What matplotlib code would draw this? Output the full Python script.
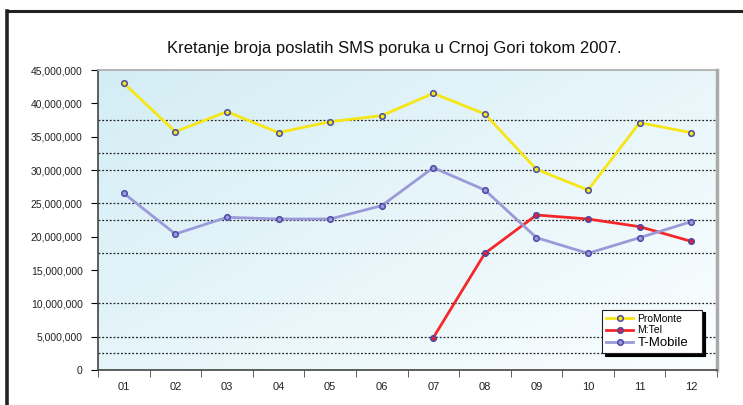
import numpy as np
import matplotlib.pyplot as plt
from matplotlib.lines import Line2D
from matplotlib.ticker import FuncFormatter, MultipleLocator

plt.rcParams['font.family'] = ['Liberation Sans', 'DejaVu Sans']

meseci = ['01', '02', '03', '04', '05', '06', '07', '08', '09', '10', '11', '12']
promonte = [43.0, 35.75, 38.75, 35.6, 37.25, 38.15, 41.5, 38.4, 30.1, 27.0, 37.1, 35.6]
tmobile = [26.5, 20.4, 22.9, 22.65, 22.65, 24.65, 30.35, 27.0, 19.85, 17.5, 19.85, 22.25]
mtel = [None, None, None, None, None, None, 4.85, 17.5, 23.25, 22.65, 21.5, 19.3]
# isprekidane linije mreze (miliona)
nivoi_mreze = [2.5, 5, 10, 17.5, 22.5, 25, 30, 32.5, 37.5]

W, H = 743, 405
fig = plt.figure(figsize=(W / 100, H / 100), dpi=100)

# okvir slike
fig.add_artist(Line2D([7 / W, 1], [1 - 11 / H, 1 - 11 / H], color='#222222', lw=2.2))
fig.add_artist(Line2D([7 / W, 7 / W], [0, 1 - 11 / H], color='#222222', lw=2.6))

ax = fig.add_axes([98 / W, 35 / H, 619 / W, 300 / H])

# pozadina sa prelivom
gx, gy = np.meshgrid(np.linspace(0, 1, 200), np.linspace(1, 0, 120))
t = np.clip((gx * 0.7 + (1 - gy) * 0.6) / 1.3, 0, 1)
c0 = np.array([0.83, 0.93, 0.96])
c1 = np.array([0.98, 0.995, 1.0])
img = c0[None, None, :] * (1 - t[..., None]) + c1[None, None, :] * t[..., None]
ax.imshow(img, extent=[0, 1, 0, 1], transform=ax.transAxes, aspect='auto', zorder=0)

x = np.arange(len(meseci))
for lvl in nivoi_mreze:
    ax.axhline(lvl * 1e6, color='#222222', lw=0.9, ls=(0, (1.5, 1.5)), zorder=1)

mk = dict(marker='o', markersize=4, markeredgecolor='#4a4aa8', markeredgewidth=1.1)
ax.plot(x, [v * 1e6 for v in promonte], color='#f5e614', lw=2,
        markerfacecolor='#f5e614', label='ProMonte', zorder=3, **mk)
mtel_x = [i for i, v in zip(x, mtel) if v is not None]
mtel_v = [v * 1e6 for v in mtel if v is not None]
ax.plot(mtel_x, mtel_v, color='#f42828', lw=2,
        markerfacecolor='#e02030', label='M:Tel', zorder=3, **mk)
ax.plot(x, [v * 1e6 for v in tmobile], color='#9a9ad8', lw=2,
        markerfacecolor='#9a9ad8', label='T-Mobile', zorder=3, **mk)

ax.set_xlim(-0.5, len(meseci) - 0.5)
ax.set_ylim(0, 45e6)
ax.yaxis.set_major_locator(MultipleLocator(5e6))
ax.yaxis.set_major_formatter(FuncFormatter(lambda v, p: f'{int(v):,}'))
ax.set_xticks(x)
ax.set_xticklabels(meseci)
ax.set_xticks(np.arange(-0.5, len(meseci)), minor=True)
ax.tick_params(axis='x', which='major', length=0, pad=9, labelsize=8)
ax.tick_params(axis='x', which='minor', length=5, direction='out', color='#444444')
ax.tick_params(axis='y', length=5, direction='out', labelsize=7.5, pad=6)
for lbl in ax.get_yticklabels() + ax.get_xticklabels():
    lbl.set_color('#222222')

ax.spines['left'].set_color('#444444')
ax.spines['left'].set_linewidth(1.2)
ax.spines['bottom'].set_color('#444444')
ax.spines['bottom'].set_linewidth(1.2)
ax.spines['top'].set_color('#aaaaaa')
ax.spines['top'].set_linewidth(1.2)
ax.spines['right'].set_color('#aaaaaa')
ax.spines['right'].set_linewidth(2.5)

fig.text(394 / W, 1 - 48 / H, 'Kretanje broja poslatih SMS poruka u Crnoj Gori tokom 2007.',
         ha='center', va='center', fontsize=12, color='#111111')

leg = ax.legend(loc='lower left', bbox_to_anchor=((602 - 98) / 619, (370 - 353) / 300,
                                                  100 / 619, 45 / 300),
                mode='expand', fontsize=7.5, frameon=True, fancybox=False,
                shadow={'color': 'black', 'alpha': 1},
                handlelength=2.6, handletextpad=0.4, borderpad=0.4, labelspacing=0.15,
                borderaxespad=0)
leg.get_frame().set_edgecolor('#222222')
leg.get_frame().set_linewidth(0.8)
leg.get_texts()[2].set_fontsize(9.5)
leg.set_zorder(5)

fig.savefig('out.png', dpi=100, facecolor='white')
